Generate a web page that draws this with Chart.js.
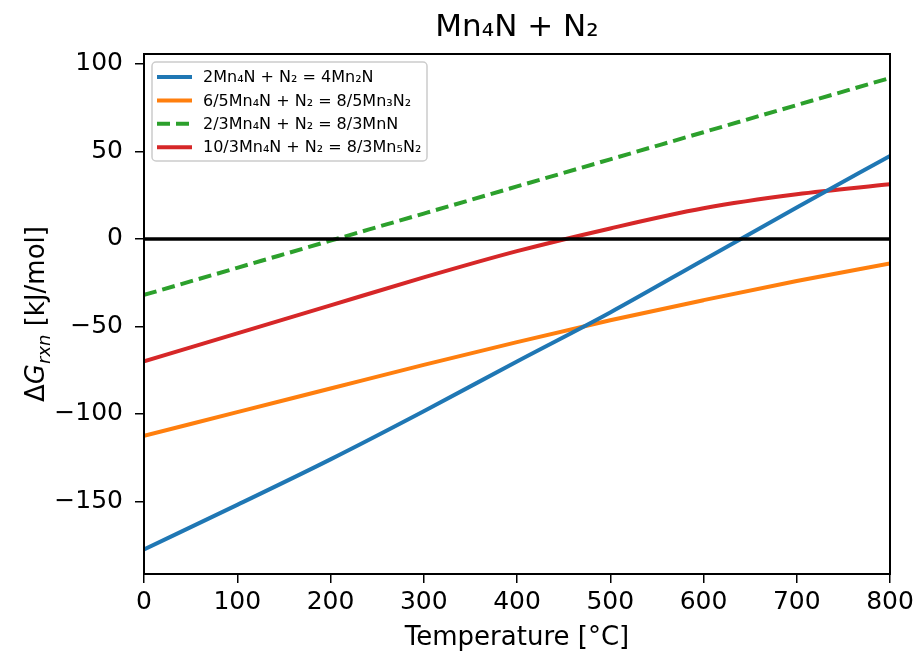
<!DOCTYPE html>
<html>
<head>
<meta charset="utf-8">
<script src="https://cdn.jsdelivr.net/npm/chart.js@4.4.1/dist/chart.umd.min.js"></script>
<style>
  html, body { margin: 0; padding: 0; background: #fff; }
  #wrap { width: 919px; height: 658px; }
</style>
</head>
<body>
<div id="wrap"><canvas id="gibbsChart" width="919" height="658"></canvas></div>
<script>
// temperature grid [°C]
const temperatures = [0, 100, 200, 300, 400, 500, 600, 700, 800];

// reaction free energies [kJ/mol]
const mn2nValues   = [-177.5, -152, -126, -98.5, -70, -42, -12, 18, 47.4];
const mn3n2Values  = [-112.5, -99, -85.5, -72, -59, -46.5, -35, -24, -14];
const mnnValues    = [-32, -16.5, -1, 14.5, 30, 45.5, 61, 76.5, 92];
const mn5n2Values  = [-70, -54, -38, -22, -7, 6, 17.5, 25.5, 31.2];

const seriesLabels = [
    '2Mn\u2084N + N\u2082 = 4Mn\u2082N',
    '6/5Mn\u2084N + N\u2082 = 8/5Mn\u2083N\u2082',
    '2/3Mn\u2084N + N\u2082 = 8/3MnN',
    '10/3Mn\u2084N + N\u2082 = 8/3Mn\u2085N\u2082'
];
const seriesColors = ['#1f77b4', '#ff7f0e', '#2ca02c', '#d62728'];

const xTicks = [0, 100, 200, 300, 400, 500, 600, 700, 800];
const yTicks = [-150, -100, -50, 0, 50, 100];

const FONT = "'DejaVu Sans', sans-serif";
const LW = 4;

function toPoints(vals) {
    return temperatures.map((t, i) => ({ x: t, y: vals[i] }));
}

const allSeries = [mn2nValues, mn3n2Values, mnnValues, mn5n2Values];
const datasets = allSeries.map((vals, i) => ({
    label: seriesLabels[i],
    data: toPoints(vals),
    borderColor: seriesColors[i],
    backgroundColor: seriesColors[i],
    borderWidth: LW,
    borderDash: i === 2 ? [13, 6] : [],
    pointRadius: 0,
    cubicInterpolationMode: 'monotone',
    fill: false,
    order: 1
}));

// horizontal zero line
datasets.push({
    label: 'zero',
    data: [{ x: xTicks[0], y: 0 }, { x: xTicks[xTicks.length - 1], y: 0 }],
    borderColor: '#000',
    borderWidth: 3.5,
    pointRadius: 0,
    fill: false,
    order: 0
});

// frame on all four sides, on top of the lines
const framePlugin = {
    id: 'frame',
    afterDatasetsDraw(chart) {
        const { ctx, chartArea: a } = chart;
        ctx.save();
        ctx.strokeStyle = '#000';
        ctx.lineWidth = 2;
        ctx.strokeRect(a.left, a.top, a.right - a.left, a.bottom - a.top);
        ctx.restore();
    }
};

// title centred over the axes
const axesTitle = {
    id: 'axesTitle',
    afterDraw(chart) {
        const { ctx, chartArea: a } = chart;
        ctx.save();
        ctx.font = '31px ' + FONT;
        ctx.fillStyle = '#000';
        ctx.textAlign = 'center';
        ctx.textBaseline = 'middle';
        ctx.fillText('Mn\u2084N + N\u2082', (a.left + a.right) / 2, 28);
        ctx.restore();
    }
};

// legend box inside the axes, upper left
const insideLegend = {
    id: 'insideLegend',
    afterDraw(chart) {
        const { ctx, chartArea: a } = chart;
        const x0 = a.left + 8, y0 = a.top + 8;
        const w = 275, h = 99;
        ctx.save();
        ctx.fillStyle = 'rgba(255,255,255,0.8)';
        ctx.strokeStyle = '#cccccc';
        ctx.lineWidth = 1.5;
        ctx.beginPath();
        ctx.roundRect(x0, y0, w, h, 4);
        ctx.fill();
        ctx.stroke();
        ctx.font = '16px ' + FONT;
        ctx.textBaseline = 'middle';
        seriesLabels.forEach((lab, i) => {
            const y = y0 + 15 + i * 23.4;
            ctx.strokeStyle = seriesColors[i];
            ctx.lineWidth = LW;
            ctx.setLineDash(i === 2 ? [13, 6] : []);
            ctx.beginPath();
            ctx.moveTo(x0 + 5, y);
            ctx.lineTo(x0 + 40, y);
            ctx.stroke();
            ctx.setLineDash([]);
            ctx.fillStyle = '#000';
            ctx.fillText(lab, x0 + 51, y + 1);
        });
        ctx.restore();
    }
};

// y axis title with italic subscript
const yTitlePlugin = {
    id: 'yTitle',
    afterDraw(chart) {
        const { ctx, chartArea: a } = chart;
        const parts = [
            { t: '\u0394', f: '26px ' + FONT, dy: 0 },
            { t: 'G', f: 'italic 26px ' + FONT, dy: 0 },
            { t: 'rxn', f: 'italic 18px ' + FONT, dy: 6 },
            { t: ' [kJ/mol]', f: '26px ' + FONT, dy: 0 }
        ];
        ctx.save();
        let total = 0;
        parts.forEach(p => { ctx.font = p.f; p.w = ctx.measureText(p.t).width; total += p.w; });
        ctx.translate(44, (a.top + a.bottom) / 2);
        ctx.rotate(-Math.PI / 2);
        ctx.fillStyle = '#000';
        ctx.textBaseline = 'alphabetic';
        let x = -total / 2;
        parts.forEach(p => {
            ctx.font = p.f;
            ctx.fillText(p.t, x, p.dy);
            x += p.w;
        });
        ctx.restore();
    }
};

function fmt(v) {
    return v < 0 ? '\u2212' + Math.abs(v) : String(v);
}

const ctx = document.getElementById('gibbsChart').getContext('2d');
new Chart(ctx, {
    type: 'line',
    data: { datasets: datasets },
    plugins: [framePlugin, axesTitle, insideLegend, yTitlePlugin],
    options: {
        responsive: false,
        animation: false,
        layout: { padding: { top: 54, right: 29, bottom: 0, left: 0 } },
        plugins: {
            legend: { display: false },
            tooltip: { enabled: false },
            title: { display: false }
        },
        scales: {
            x: {
                type: 'linear',
                min: xTicks[0],
                max: xTicks[xTicks.length - 1],
                afterBuildTicks: s => { s.ticks = xTicks.map(v => ({ value: v })); },
                afterFit: s => { s.height = 84; },
                grid: { display: true, drawOnChartArea: false, drawTicks: true, tickLength: 9, color: '#000', lineWidth: 1.5 },
                border: { display: true, color: '#000', width: 2 },
                ticks: { color: '#000', padding: 4, maxRotation: 0, font: { family: FONT, size: 25 } },
                title: {
                    display: true,
                    text: 'Temperature [\u00b0C]',
                    color: '#000',
                    font: { family: FONT, size: 26 },
                    padding: { top: 0, bottom: 4 }
                }
            },
            y: {
                type: 'linear',
                min: -191.5,
                max: 105.7,
                afterBuildTicks: s => { s.ticks = yTicks.map(v => ({ value: v })); },
                afterFit: s => { s.width = 144; },
                grid: { display: true, drawOnChartArea: false, drawTicks: true, tickLength: 9, color: '#000', lineWidth: 1.5 },
                border: { display: true, color: '#000', width: 2 },
                ticks: { color: '#000', padding: 12, callback: v => fmt(v), font: { family: FONT, size: 25 } }
            }
        }
    }
});
</script>
</body>
</html>
